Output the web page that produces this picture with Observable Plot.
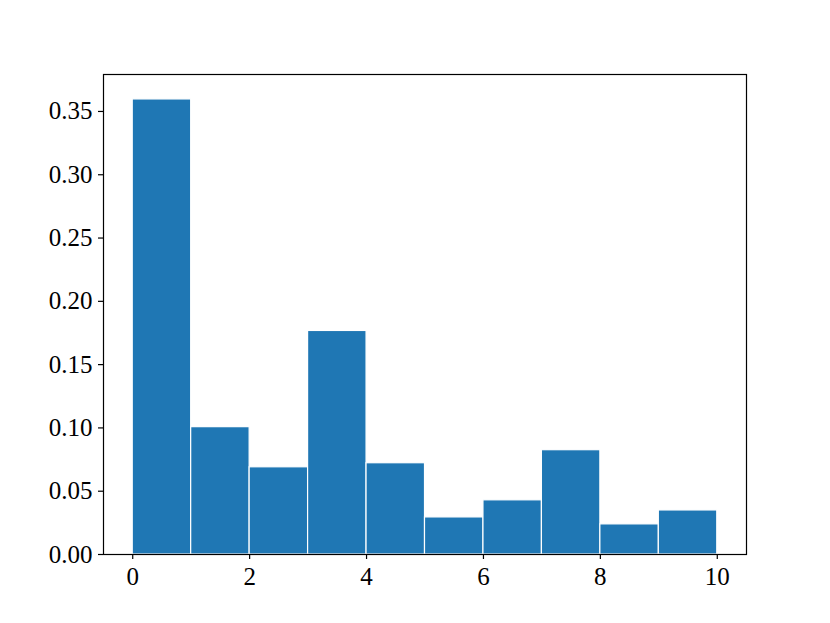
<!DOCTYPE html>
<html>
<head>
<meta charset="utf-8">
<script src="https://cdn.jsdelivr.net/npm/d3@7"></script>
<script src="https://cdn.jsdelivr.net/npm/@observablehq/plot@0.6"></script>
<style>
  html, body { margin: 0; padding: 0; background: white; }
</style>
</head>
<body>
<div id="chart"></div>
<script>
const binStarts = [0, 1, 2, 3, 4, 5, 6, 7, 8, 9];
const binEnds   = [1, 2, 3, 4, 5, 6, 7, 8, 9, 10];
const density   = [0.3595, 0.1006, 0.0689, 0.1766, 0.0721, 0.0293, 0.0428, 0.0824, 0.0238, 0.0348];
const xTicks = [0, 2, 4, 6, 8, 10];
const yTicks = [0, 0.05, 0.10, 0.15, 0.20, 0.25, 0.30, 0.35];

const data = binStarts.map((s, i) => ({x1: s, x2: binEnds[i], y: density[i]}));

const chart = Plot.plot({
  width: 830,
  height: 623,
  marginLeft: 103,
  marginRight: 84,
  marginTop: 74,
  marginBottom: 69,
  style: {fontFamily: "'Liberation Serif', 'DejaVu Serif', serif", fontSize: "25px", color: "black", background: "white"},
  x: {domain: [-0.5, 10.5]},
  y: {domain: [0, 0.3792]},
  marks: [
    Plot.rectY(data, {x1: "x1", x2: "x2", y: "y", fill: "#1f77b4", stroke: "white", strokeWidth: 1.2}),
    Plot.axisX({ticks: xTicks, tickSize: 5, tickPadding: 8, label: null, tickFormat: d => String(d), strokeWidth: 1.2}),
    Plot.axisY({ticks: yTicks, tickSize: 5, tickPadding: 6, label: null, tickFormat: d3.format(".2f"), strokeWidth: 1.2}),
    Plot.frame({stroke: "black", strokeWidth: 1.2})
  ]
});
document.getElementById("chart").appendChild(chart);
</script>
</body>
</html>
